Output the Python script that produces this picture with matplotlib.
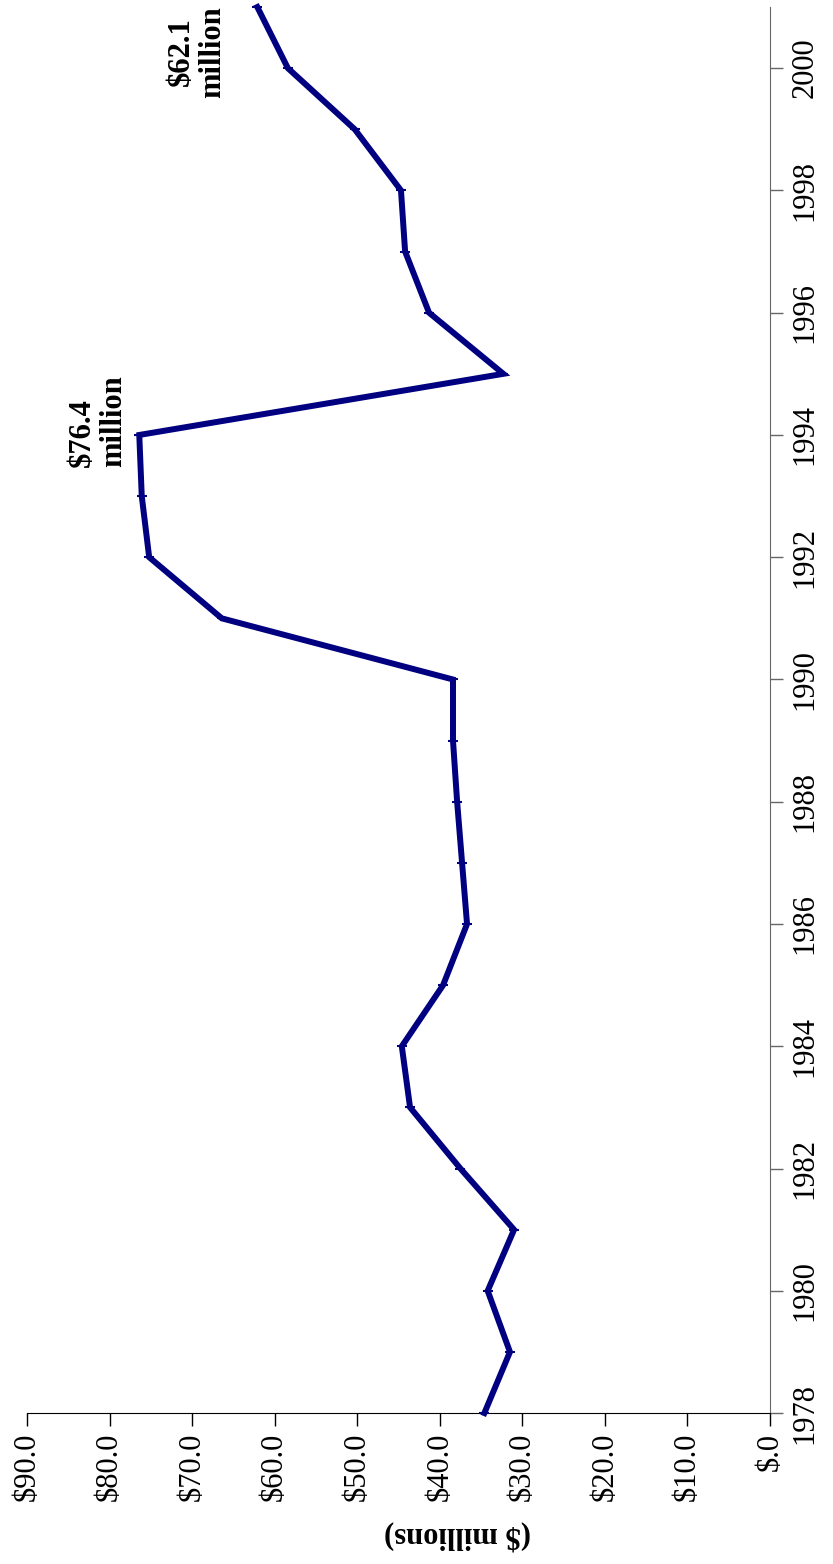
import matplotlib.pyplot as plt

years = list(range(1978, 2002))
spending = [34.6, 31.5, 34.2, 31.0, 37.5, 43.6, 44.6, 39.6, 36.7, 37.3,
            37.9, 38.4, 38.4, 66.4, 75.2, 76.1, 76.4, 32.3, 41.3, 44.2,
            44.7, 50.3, 58.4, 62.1]
value_ticks = [90, 80, 70, 60, 50, 40, 30, 20, 10, 0]
value_labels = ["$90.0", "$80.0", "$70.0", "$60.0", "$50.0", "$40.0",
                "$30.0", "$20.0", "$10.0", "$.0"]
year_ticks = list(range(1978, 2001, 2))

# callouts: (text, value, year, line alignment) for the label centre
callouts = [("$76.4\nmillion", 81.4, 1994.23, "left"),
            ("$62.1\nmillion", 69.4, 2000.27, "center")]

plt.rcParams['font.family'] = ['Liberation Serif', 'DejaVu Serif']

fig = plt.figure(figsize=(8.33, 15.64), dpi=100)
ax = fig.add_axes([0.0324, 0.0965, 0.892, 0.899])

# chart is drawn turned on its side: values run right-to-left, years upward
ax.plot(spending, years, color="#000080", lw=4.3, solid_joinstyle="miter",
        marker="_", ms=7, mew=1.5, clip_on=False, zorder=3)

ax.set_xlim(90, 0)
ax.set_ylim(1978, 2001)

ax.set_xticks(value_ticks)
ax.set_xticklabels(value_labels, rotation=90, va="top", ha="center")
ax.set_yticks(year_ticks)
ax.set_yticklabels([str(y) for y in year_ticks], rotation=90, va="center")

ax.yaxis.tick_right()
ax.spines["left"].set_visible(False)
ax.spines["top"].set_visible(False)
ax.spines["right"].set_color("#666666")
ax.spines["bottom"].set_color("black")
ax.tick_params(axis="x", direction="out", length=9, width=1, labelsize=22, pad=5)
ax.tick_params(axis="y", direction="out", length=9, width=1, labelsize=22,
               color="#666666", pad=6)

ax.set_xlabel("($ millions)", rotation=180, fontsize=22, fontweight="bold",
              va="center", ha="center")
ax.xaxis.set_label_coords(0.58, -0.087)

for text, val, yr, align in callouts:
    ax.text(val, yr, text, rotation=90, ha="center", va="center",
            multialignment=align, fontsize=22, fontweight="bold",
            linespacing=1.1, clip_on=False)

fig.savefig("out.png", dpi=100)
